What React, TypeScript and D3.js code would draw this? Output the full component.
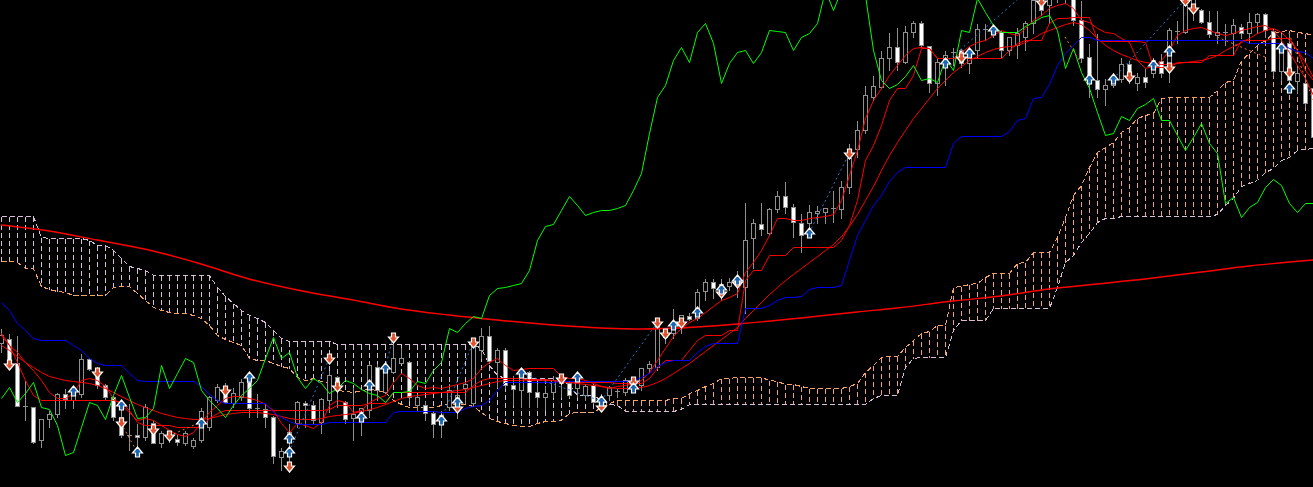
import React from "react";
import * as d3 from "d3";

const W = 1313;
const H = 487;

// [open, high, low, close] per bar
const CANDLES: [number, number, number, number][] = [
  [157,172,148,165],[161,167,132,138],[137,165,94,94],[94,120,80,93],[93,94,57,58],
  [60,82,53,81],[81,90,73,86],[86,108,83,106],[106,112,92,101],[100,113,92,107],
  [106,147,103,141],[141,143,130,131],[130,134,112,115],[115,117,101,103],[103,105,80,83],
  [83,100,63,65],[65,97,50,64],[65,77,53,63],[63,97,60,93],[77,80,57,57],
  [57,70,53,67],[65,68,58,62],[61,66,55,58],[57,70,55,67],[54,63,52,60],
  [60,93,58,89],[73,105,70,103],[100,117,98,113],[113,118,97,98],[97,113,93,107],
  [103,122,100,118],[118,125,83,92],[92,107,83,91],[91,97,73,83],[83,85,37,44],
  [43,53,30,49],[62,77,28,68],[77,100,73,98],[97,100,73,95],[95,100,77,80],
  [78,103,67,101],[100,130,88,125],[123,125,93,117],[98,100,77,81],[82,113,60,86],
  [88,93,65,92],[90,137,83,135],[133,137,100,110],[108,133,107,130],[128,160,127,142],
  [137,153,137,142],[138,140,100,103],[95,107,90,103],[95,100,80,87],[87,90,63,76],
  [80,90,63,85],[93,117,90,110],[95,112,82,105],[112,118,97,116],[97,163,95,155],
  [150,173,142,164],[164,175,137,139],[138,153,113,150],[150,153,112,115],[115,125,95,111],
  [110,130,93,125],[128,130,93,108],[108,117,93,103],[103,115,90,107],[108,125,103,120],
  [117,125,103,123],[117,120,103,105],[112,123,103,118],[105,117,100,114],[115,117,97,98],
  [98,107,90,102],[105,115,100,113],[108,112,103,109],[108,123,105,120],[114,123,108,120],
  [115,133,110,132],[132,140,128,136],[133,180,130,175],[168,170,157,163],[167,192,162,172],
  [178,185,167,185],[184,188,180,181],[182,212,180,208],[209,222,200,218],[218,222,202,212],
  [210,222,200,216],[214,223,210,218],[217,230,203,222],[213,298,187,260],[262,282,232,277],
  [276,298,265,271],[267,293,265,291],[291,310,288,304],[304,319,287,293],[293,297,263,278],
  [277,287,248,265],[277,296,273,288],[287,295,277,289],[288,293,277,292],[291,310,278,292],
  [291,320,282,313],[313,357,307,342],[351,380,343,370],[370,415,367,405],[403,425,400,414],
  [413,450,412,442],[442,468,430,453],[453,473,430,438],[438,475,437,468],[468,480,463,477],
  [477,480,453,455],[454,455,408,417],[417,443,405,438],[437,450,415,445],[447,453,435,448],
  [450,452,433,437],[437,453,427,445],[450,477,443,471],[471,477,460,470],[468,473,463,472],
  [468,470,443,450],[450,463,445,463],[455,473,442,467],[463,480,450,477],[477,505,467,500],
  [502,510,485,490],[495,525,477,515],[510,540,498,530],[520,535,497,505],[505,515,475,480],
  [480,500,438,442],[443,457,403,423],[420,467,403,411],[411,422,395,415],[415,428,413,419],
  [421,443,418,436],[436,440,417,420],[417,428,410,423],[423,432,413,418],[427,443,423,440],
  [439,447,423,427],[435,473,418,470],[469,480,457,468],[468,500,467,495],[493,510,480,505],
  [490,492,477,478],[478,490,463,466],[465,490,457,468],[468,477,455,467],[467,482,445,475],
  [473,477,462,467],[467,488,457,478],[478,488,467,486],[486,488,463,470],[469,472,425,429],
  [429,467,420,448],[457,468,418,420],[419,433,407,427],[417,423,393,397],[412,415,360,363],
];

const SENKOU_A = [
  239,239,238,232,232, 214,211,209,208,205, 205,205,205,205,213, 214,214,207,200,193,
  190,188,187,187,185, 182,175,165,161,158, 155,142,140,140,137, 134,132,123,120,122,
  119,117,110,109,108, 110,111,110,108,100, 96,93,93,93,93, 95,96,96,96,94,
  88,82,79,77,75, 74,74,77,79,79, 80,87,88,88,88, 93,97,100,100,100,
  100,100,100,100,102, 102,107,110,114,117, 122,122,123,123,123, 123,120,119,116,116,
  114,112,112,112,112, 112,114,117,128,135, 143,144,144,153,160, 167,169,175,175,213,
  214,216,217,223,227, 227,227,237,238,248, 248,248,263,283,305, 315,333,348,353,358,
  368,373,382,385,387, 402,403,403,403,403, 403,403,410,418,420, 440,447,455,460,467,
  469,470,468,467,465,
];

const SENKOU_B = [
  284,284,284,284,284, 263,262,262,262,262, 262,260,255,255,250, 242,234,232,230,225,
  225,225,225,225,225, 225,225,213,204,197, 190,185,182,178,170, 162,159,159,159,159,
  159,159,156,156,156, 156,156,156,156,156, 156,156,156,156,156, 156,156,156,156,156,
  152,135,125,122,122, 122,122,122,122,122, 122,115,105,105,105, 100,96,95,89,89,
  89,89,89,89,89, 91,96,96,96,96, 96,96,96,96,96, 96,96,96,96,96,
  96,96,96,96,96, 96,96,96,96,102, 105,105,105,133,142, 143,143,143,143,170,
  180,180,180,180,192, 192,192,192,192,192, 192,192,213,238,245, 258,267,278,282,282,
  284,284,284,284,284, 284,284,284,284,284, 284,284,286,295,302, 314,317,320,328,332,
  340,343,350,351,352,
];

const CHIKOU = [
  102,113,98,107,118, 93,91,75,45,48, 73,98,95,81,105, 125,103,82,83,92,
  135,112,127,142,138, 110,100,92,83,95, 105,112,120,142,163, 142,148,123,112,122,
  117,107,112,120,117, 111,107,105,98,108, 108,109,119,117,130, 138,172,168,177,184,
  182,205,212,213,215, 217,230,260,274,276, 290,304,295,285,288, 290,290,292,295,310,
  327,367,403,415,440, 453,438,468,477,457, 417,437,448,450,437, 448,470,469,468,450,
  463,467,477,510,490, 510,513,513,505,450, 420,412,416,424,435, 420,422,418,442,430,
  470,468,502,488,475, 468,468,468,474,478, 483,485,470,432,452, 428,412,388,365,367,
  384,380,392,396,402, 380,380,365,350,363, 377,357,347,297,303, 283,293,298,313,321,
  315,297,288,297,297,
];

const KIJUN = [
  198,190,177,170,162, 160,160,160,160,155, 150,142,137,135,135, 135,127,120,119,119,
  119,119,119,119,119, 114,106,100,97,97, 97,97,97,97,88, 83,79,76,76,76,
  76,78,78,78,78, 78,78,78,78,88, 89,89,89,89,89, 88,88,88,92,94,
  95,100,110,118,118, 118,118,118,118,118, 119,119,119,119,119, 119,119,119,119,120,
  123,127,134,138,140, 140,140,148,154,157, 157,157,157,192,192, 192,195,200,203,203,
  204,211,213,213,213, 215,240,265,280,295, 305,319,328,333,333, 333,333,333,333,357,
  364,364,364,364,364, 364,369,380,382,402, 403,416,435,447,455, 463,463,460,460,460,
  460,460,460,460,460, 460,460,460,460,460, 460,460,460,460,460, 460,457,457,457,457,
  457,452,449,448,442,
];

const TENKAN = [
  167,155,138,120,105, 100,100,100,100,100, 100,100,100,100,100, 98,90,78,75,75,
  75,75,73,73,73, 73,82,87,90,90, 90,90,90,90,90, 90,90,90,90,90,
  90,91,95,95,95, 95,97,97,97,108, 108,108,108,108,108, 108,108,108,108,115,
  120,122,122,122,122, 122,120,120,120,120, 118,118,118,118,118, 118,118,117,117,117,
  117,122,132,140,140, 140,150,160,165,165, 165,170,170,220,230, 230,245,245,245,253,
  253,253,253,253,253, 260,275,300,340,355, 375,400,412,412,425, 452,452,442,442,442,
  442,442,442,442,442, 442,450,457,460,460, 460,477,482,482,483, 483,483,460,459,459,
  459,459,459,458,433, 433,433,438,438,438, 438,445,445,445,445, 460,460,460,460,462,
  462,462,450,430,420,
];

const MA_FAST = [
  165,155,148,138,130, 120,108,102,102,107, 120,122,120,114,102, 95,88,80,82,80,
  75,70,66,64,68, 78,88,95,102,104, 104,102,100,96,90, 77,68,77,75,72,
  78,95,100,98,88, 90,98,102,105,118, 127,122,115,112,113, 112,114,116,118,122,
  132,138,142,135,130, 131,132,132,132,132, 124,122,122,120,117, 114,112,114,115,117,
  120,128,140,152,164, 172,178,182,188,194, 200,203,207,228,238, 250,265,282,282,280,
  280,282,283,284,286, 300,325,350,382,400, 412,425,435,445,452, 453,452,442,442,442,
  448,454,458,460,465, 470,467,465,472,480, 485,492,495,497,492, 480,478,472,468,467,
  462,458,440,432,434, 440,450,465,470,472, 473,470,467,465,467, 470,472,474,475,470,
  460,448,435,422,405,
];

const MA_SLOW = [
  155,150,144,138,133, 128,124,122,120,119, 118,117,115,112,108, 104,100,96,93,90,
  87,85,83,82,81, 81,82,84,86,87, 88,88,88,87,86, 84,82,81,81,81,
  82,84,85,86,87, 89,91,93,96,99, 102,104,105,106,107, 108,109,110,111,113,
  115,117,119,120,120, 120,121,121,121,120, 119,118,117,116,115, 114,113,112,112,112,
  113,115,118,122,127, 132,137,143,149,155, 161,167,173,182,190, 198,206,213,220,226,
  232,238,244,250,256, 264,274,286,300,314, 330,345,358,370,382, 392,402,412,420,428,
  434,440,444,448,451, 453,454,455,458,462, 467,470,473,476,478, 476,470,462,455,450,
  446,443,440,438,437, 436,436,437,438,439, 440,442,445,450,454, 458,462,467,470,472,
  468,460,450,438,423,
];

// long moving average, read at sample bars: [bar, value]
const MA_LONG: [number, number][] = [
  [0,275],[6,269],[12,260],[19,249],[25,236],[31,221],[37,210],[44,200],[50,191],[56,185],
  [62,180],[69,175],[75,172],[80,171],[87,173],[92,176],[100,182],[107,188],[112,192],
  [119,199],[125,204],[131,211],[137,216],[144,222],[150,228],[156,234],[164,240],
];

// signal arrows: [bar, value]
const SELL_SIGNALS: [number, number][] = [
  [1,135],[12,127],[15,77],[19,70],[21,64],[28,109],[36,33],[41,141],[42,113],[49,162],
  [57,92],[59,157],[70,121],[75,93],[79,118],[82,177],[83,166],[85,177],[90,207],[92,217],
  [106,346],[120,442],[130,498],[141,423],[146,432],[148,499],[149,491],[161,427],
];
const BUY_SIGNALS: [number, number][] = [
  [9,109],[15,95],[17,48],[25,77],[31,123],[36,62],[36,48],[45,83],[46,115],[48,132],
  [55,80],[57,98],[65,127],[72,123],[75,99],[79,112],[84,175],[87,188],[90,211],[92,220],
  [101,267],[118,437],[121,447],[124,470],[136,421],[139,421],[144,435],[146,449],[160,452],[161,412],
];

// zigzag legs: [bar1, value1, bar2, value2]
const ZIG_BLUE: [number, number, number, number][] = [
  [36,48,41,141],[48,132,49,162],[55,80,59,157],[65,127,75,99],[75,99,82,177],
  [101,267,106,346],[118,437,127,500],[139,421,148,500],
];
const ZIG_ORANGE: [number, number, number, number][] = [
  [15,77,17,48],[21,64,25,78],[133,463,135,437],[152,463,158,443],[161,467,164,400],
];

const GRAY = "#909090";
const SANDY = "#f4a460";
const THISTLE = "#d8bfd8";

export default function App() {
  const x = d3.scaleLinear().domain([0, CANDLES.length - 1]).range([1, 1 + 8 * (CANDLES.length - 1)]);
  const y = d3.scaleLinear().domain([13, 500]).range([H, 0]);
  const px = (i: number) => Math.round(x(i)) + 0.5;
  const py = (v: number) => Math.round(y(v)) + 0.5;

  const seriesLine = d3.line<number>().x((_, i) => px(i)).y((v) => py(v));
  const longLine = d3
    .line<[number, number]>()
    .x((d) => x(d[0]))
    .y((d) => y(d[1]))
    .curve(d3.curveMonotoneX);

  const arrowDown = (cx: number, cy: number) =>
    `M${cx - 2},${cy - 5}H${cx + 2}V${cy - 1}H${cx + 5}L${cx},${cy + 5}L${cx - 5},${cy - 1}H${cx - 2}Z`;
  const arrowUp = (cx: number, cy: number) =>
    `M${cx - 2},${cy + 5}H${cx + 2}V${cy + 1}H${cx + 5}L${cx},${cy - 5}L${cx - 5},${cy + 1}H${cx - 2}Z`;

  return (
    <div style={{ position: "fixed", left: 0, top: 0, width: W, height: H, background: "#000" }}>
      <svg width={W} height={H} style={{ display: "block", background: "#000" }}>
        {/* cloud hatch */}
        <g shapeRendering="crispEdges">
          {SENKOU_A.map((a, i) => {
            const b = SENKOU_B[i];
            return (
              <line
                key={"h" + i}
                x1={px(i)}
                x2={px(i)}
                y1={py(Math.max(a, b))}
                y2={py(Math.min(a, b))}
                stroke={a >= b ? SANDY : THISTLE}
                strokeWidth={1}
                strokeDasharray="5,3"
              />
            );
          })}
          <path d={seriesLine(SENKOU_A) || ""} fill="none" stroke={SANDY} strokeDasharray="5,3" />
          <path d={seriesLine(SENKOU_B) || ""} fill="none" stroke={THISTLE} strokeDasharray="5,3" />
        </g>

        {/* candles */}
        <g shapeRendering="crispEdges">
          {CANDLES.map(([o, h, l, c], i) => {
            const cx = Math.round(x(i));
            const top = Math.round(y(Math.max(o, c)));
            const bot = Math.round(y(Math.min(o, c)));
            const bear = c < o;
            return (
              <g key={"c" + i}>
                <line x1={cx + 0.5} x2={cx + 0.5} y1={py(h)} y2={py(l)} stroke={GRAY} />
                {bot - top <= 1 ? (
                  <line x1={cx - 2} x2={cx + 3} y1={top + 0.5} y2={top + 0.5} stroke={GRAY} />
                ) : (
                  <rect
                    x={cx - 1.5}
                    y={top + 0.5}
                    width={4}
                    height={bot - top}
                    fill={bear ? "#ffffff" : "#000000"}
                    stroke={GRAY}
                  />
                )}
              </g>
            );
          })}
        </g>

        {/* moving averages & ichimoku lines */}
        <g fill="none" strokeWidth={1}>
          <path d={longLine(MA_LONG) || ""} stroke="#ff0000" strokeWidth={1.4} />
          <path d={seriesLine(MA_SLOW) || ""} stroke="#ff0000" />
          <path d={seriesLine(MA_FAST) || ""} stroke="#ff0000" />
          <path d={seriesLine(TENKAN) || ""} stroke="#ff0000" />
          <path d={seriesLine(KIJUN) || ""} stroke="#0000ff" />
          <path d={seriesLine(CHIKOU) || ""} stroke="#00ff00" />
        </g>

        {/* zigzag */}
        <g fill="none" strokeWidth={1} strokeDasharray="2,3">
          {ZIG_BLUE.map(([i1, v1, i2, v2], k) => (
            <line key={"zb" + k} x1={x(i1)} y1={y(v1)} x2={x(i2)} y2={y(v2)} stroke="#2a78c8" />
          ))}
          {ZIG_ORANGE.map(([i1, v1, i2, v2], k) => (
            <line key={"zo" + k} x1={x(i1)} y1={y(v1)} x2={x(i2)} y2={y(v2)} stroke="#e8782c" />
          ))}
        </g>

        {/* signal arrows */}
        <g stroke="#ffffff" strokeWidth={1.2} strokeLinejoin="miter">
          {SELL_SIGNALS.map(([i, v], k) => (
            <path key={"s" + k} d={arrowDown(Math.round(x(i)) + 0.5, Math.round(y(v)))} fill="#e0502a" />
          ))}
          {BUY_SIGNALS.map(([i, v], k) => (
            <path key={"b" + k} d={arrowUp(Math.round(x(i)) + 0.5, Math.round(y(v)))} fill="#1a64b0" />
          ))}
        </g>
      </svg>
    </div>
  );
}
